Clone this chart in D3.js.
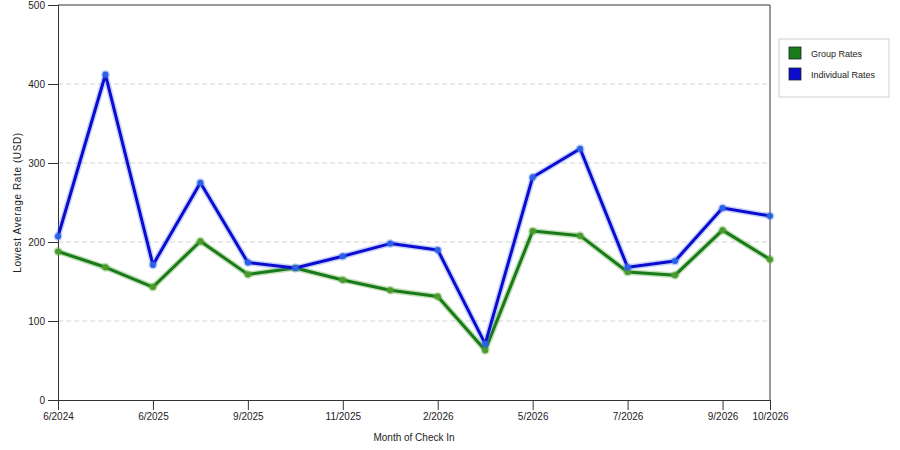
<!DOCTYPE html>
<html>
<head>
<meta charset="utf-8">
<script src="https://cdn.jsdelivr.net/npm/d3@7"></script>
<style>
  body { margin: 0; background: #fff; }
  text { font-family: "Liberation Sans", Arial, sans-serif; fill: #222; }
</style>
</head>
<body>
<div id="chart"></div>
<script>
// Months on the x axis (every point is one month of check in)
const months = ['6/2024', '5/2025', '6/2025', '7/2025', '9/2025', '10/2025', '11/2025', '12/2025',
    '2/2026', '3/2026', '5/2026', '6/2026', '7/2026', '8/2026', '9/2026', '10/2026'];
// Only these months carry a tick label
const tickMonths = ['6/2024', '6/2025', '9/2025', '11/2025', '2/2026', '5/2026', '7/2026', '9/2026', '10/2026'];
const groupRates = [188, 168, 143, 201, 159, 167, 152, 139, 131, 63, 214, 208, 162, 158, 215, 178];
const individualRates = [207, 412, 171, 275, 174, 167, 182, 198, 190, 71, 282, 318, 168, 176, 243, 233];
const yTicks = [0, 100, 200, 300, 400, 500];
const seriesNames = ['Group Rates', 'Individual Rates'];

const width = 900, height = 450;
const margin = { top: 5, right: 130, bottom: 50, left: 58 };

const series = [
    { name: seriesNames[0], values: groupRates, line: '#187a18', dot: '#4a9a2c', halo: 'rgba(90,170,60,0.35)' },
    { name: seriesNames[1], values: individualRates, line: '#0c0cd0', dot: '#2a62e6', halo: 'rgba(70,110,240,0.3)' }
];

const svg = d3.select('#chart')
    .append('svg')
    .attr('width', width)
    .attr('height', height);

const x = d3.scalePoint()
    .domain(months)
    .range([margin.left, width - margin.right]);

const y = d3.scaleLinear()
    .domain([0, 500])
    .range([height - margin.bottom, margin.top]);

// Dashed grid lines
svg.append('g')
    .selectAll('line')
    .data(yTicks.filter(d => d > 0 && d < 500))
    .enter()
    .append('line')
    .attr('x1', margin.left)
    .attr('x2', width - margin.right)
    .attr('y1', d => y(d))
    .attr('y2', d => y(d))
    .attr('stroke', '#d4d4d4')
    .attr('stroke-dasharray', '5,3');

// Frame: top and right edges
svg.append('path')
    .attr('d', `M${margin.left},${margin.top}H${width - margin.right}V${height - margin.bottom}`)
    .attr('fill', 'none')
    .attr('stroke', '#333');

// Y axis
const yAxis = svg.append('g')
    .attr('transform', `translate(${margin.left},0)`)
    .call(d3.axisLeft(y).tickValues(yTicks).tickSize(10).tickPadding(3));

// X axis
const xAxis = svg.append('g')
    .attr('transform', `translate(0,${height - margin.bottom})`)
    .call(d3.axisBottom(x).tickValues(tickMonths).tickSize(10).tickPadding(3));

[yAxis, xAxis].forEach(axis => {
    axis.select('.domain').attr('stroke', '#333');
    axis.selectAll('.tick line').attr('stroke', '#333');
    axis.selectAll('.tick text')
        .attr('font-family', '"Liberation Sans", Arial, sans-serif')
        .attr('font-size', 10)
        .attr('fill', '#222');
});

// Axis titles
svg.append('text')
    .attr('x', (margin.left + width - margin.right) / 2)
    .attr('y', 441)
    .attr('text-anchor', 'middle')
    .attr('font-size', 10)
    .text('Month of Check In');

svg.append('text')
    .attr('transform', `translate(21,${(margin.top + height - margin.bottom) / 2}) rotate(-90)`)
    .attr('text-anchor', 'middle')
    .attr('font-size', 10)
    .attr('letter-spacing', 0.6)
    .text('Lowest Average Rate (USD)');

const line = d3.line()
    .x((d, i) => x(months[i]))
    .y(d => y(d));

// Lines with a soft glow underneath
series.forEach(s => {
    const g = svg.append('g');
    g.append('path')
        .datum(s.values)
        .attr('d', line)
        .attr('fill', 'none')
        .attr('stroke', s.halo)
        .attr('stroke-width', 6)
        .attr('stroke-linejoin', 'round');
    g.append('path')
        .datum(s.values)
        .attr('d', line)
        .attr('fill', 'none')
        .attr('stroke', s.line)
        .attr('stroke-width', 3)
        .attr('stroke-linejoin', 'round');
    g.selectAll('circle.halo')
        .data(s.values)
        .enter()
        .append('circle')
        .attr('class', 'halo')
        .attr('cx', (d, i) => x(months[i]))
        .attr('cy', d => y(d))
        .attr('r', 4.5)
        .attr('fill', s.halo);
    g.selectAll('circle.dot')
        .data(s.values)
        .enter()
        .append('circle')
        .attr('class', 'dot')
        .attr('cx', (d, i) => x(months[i]))
        .attr('cy', d => y(d))
        .attr('r', 3)
        .attr('fill', s.dot);
});

// Legend
const legend = svg.append('g').attr('transform', 'translate(779,39)');
legend.append('rect')
    .attr('width', 110)
    .attr('height', 58)
    .attr('fill', '#fff')
    .attr('stroke', '#d0d0d0');

const item = legend.selectAll('g.item')
    .data(series)
    .enter()
    .append('g')
    .attr('class', 'item')
    .attr('transform', (d, i) => `translate(10,${8 + i * 21})`);

item.append('rect')
    .attr('width', 12)
    .attr('height', 12)
    .attr('fill', d => d.line)
    .attr('stroke', '#222')
    .attr('stroke-width', 0.8);

item.append('text')
    .attr('x', 22)
    .attr('y', 10)
    .attr('font-size', 9)
    .text(d => d.name);
</script>
</body>
</html>
